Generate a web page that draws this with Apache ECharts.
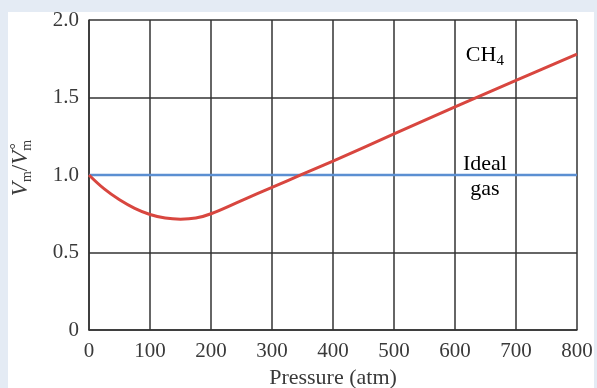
<!DOCTYPE html>
<html><head><meta charset="utf-8">
<script src="https://cdn.jsdelivr.net/npm/echarts@6/dist/echarts.min.js"></script>
<style>html,body{margin:0;padding:0;background:#e4ebf4;}#c{width:597px;height:388px;}</style>
</head><body><div id="c"></div>
<script>
const pressure = [0, 25, 50, 75, 100, 125, 150, 175, 200, 250, 300, 350, 400, 500, 600, 700, 800];
const ch4Ratio = [1.0, 0.91, 0.84, 0.785, 0.745, 0.722, 0.715, 0.722, 0.75, 0.835, 0.92, 1.005, 1.09, 1.265, 1.44, 1.61, 1.78];
const idealX = [0, 800];
const idealY = [1.0, 1.0];
const xTicks = [0, 100, 200, 300, 400, 500, 600, 700, 800];
const yTicks = [0, 0.5, 1.0, 1.5, 2.0];
const yTickLabels = ['0', '0.5', '1.0', '1.5', '2.0'];

const F = '"Liberation Serif", "DejaVu Serif", serif';
const TC = '#3a3a3a';
const chart = echarts.init(document.getElementById('c'));
const ann = [
  {x: 649, y: 1.775, t: '{n|CH}{s|4}'},
  {x: 649, y: 1.072, t: '{n|Ideal}'},
  {x: 649, y: 0.91, t: '{n|gas}'}
];
const rich = {
  n: {fontFamily: F, fontSize: 22, color: TC},
  s: {fontFamily: F, fontSize: 15, color: TC, padding: [12, 0, 0, 0]}
};
const option = {
  backgroundColor: 'transparent',
  animation: false,
  graphic: [{type: 'rect', left: 8, top: 12, shape: {width: 586, height: 376}, style: {fill: '#ffffff'}, z: -10}],
  grid: {left: 89, right: 20, top: 20, bottom: 58, containLabel: false, outerBoundsMode: 'none'},
  xAxis: {
    type: 'value', min: 0, max: 800, interval: 100,
    name: 'Pressure (atm)', nameLocation: 'middle', nameGap: 37,
    nameTextStyle: {fontFamily: F, fontSize: 22, color: TC},
    axisLine: {show: true, lineStyle: {color: '#333', width: 1.5}},
    axisTick: {show: false},
    splitLine: {show: true, lineStyle: {color: '#333', width: 1.5}},
    axisLabel: {fontFamily: F, fontSize: 21, color: TC, margin: 11,
      formatter: v => xTicks.includes(v) ? String(v) : ''}
  },
  yAxis: {
    type: 'value', min: 0, max: 2, interval: 0.5,
    name: '{i|V}{s|m}{n|/}{i|V}{s2|m}{sup|°\u2009}', nameLocation: 'middle', nameGap: 55, nameRotate: 90,
    nameTextStyle: {padding: [0, 0, 0, 14], rich: {
      i: {fontFamily: F, fontSize: 23, fontStyle: 'italic', color: TC},
      n: {fontFamily: F, fontSize: 23, color: TC},
      s: {fontFamily: F, fontSize: 14, color: TC, padding: [12, 0, 0, 0]},
      s2: {fontFamily: F, fontSize: 14, color: TC, padding: [12, 0, 0, 0]},
      sup: {fontFamily: F, fontSize: 16, color: TC, padding: [0, 0, 9, 0], width: 0.01, align: 'right'}
    }},
    axisLine: {show: true, lineStyle: {color: '#333', width: 1.5}},
    axisTick: {show: false},
    splitLine: {show: true, lineStyle: {color: '#333', width: 1.5}},
    axisLabel: {fontFamily: F, fontSize: 21, color: TC, margin: 10,
      formatter: v => { const i = yTicks.findIndex(t => Math.abs(t - v) < 1e-9); return i >= 0 ? yTickLabels[i] : ''; }}
  },
  series: [
    {type: 'line', data: idealX.map((x, i) => [x, idealY[i]]), symbol: 'none',
      lineStyle: {color: '#5b8fd2', width: 2.5}, z: 3},
    {type: 'line', data: pressure.map((x, i) => [x, ch4Ratio[i]]), symbol: 'none', smooth: 0.4,
      lineStyle: {color: '#d8463f', width: 3}, z: 4}
  ]
};
chart.setOption(option);
const g = option.graphic.slice();
ann.forEach(a => {
  const p = chart.convertToPixel({gridIndex: 0}, [a.x, a.y]);
  g.push({type: 'text', x: p[0], y: p[1], z: 10,
    style: {text: a.t, rich: rich, align: 'center', verticalAlign: 'middle'}});
});
chart.setOption({graphic: g});
</script></body></html>
